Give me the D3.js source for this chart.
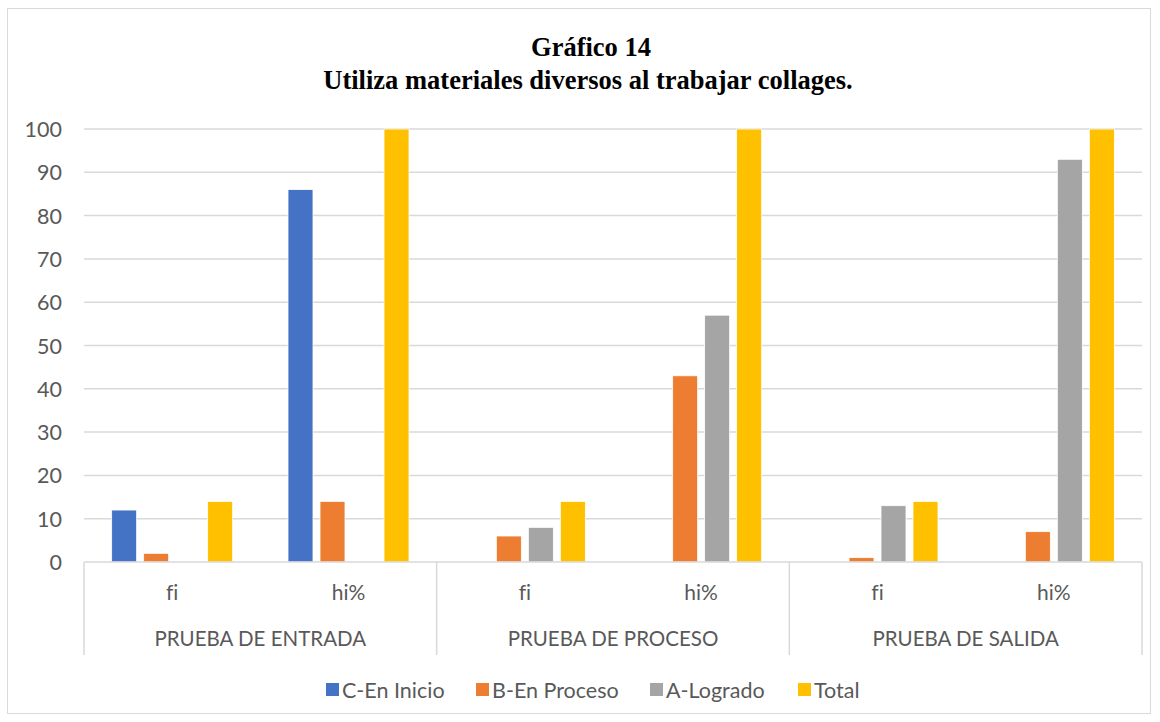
<!DOCTYPE html>
<html>
<head>
<meta charset="utf-8">
<script src="https://cdn.jsdelivr.net/npm/d3@7"></script>
<style>
  html, body { margin: 0; padding: 0; background: #ffffff; }
  svg { display: block; }
  text { font-variant-ligatures: none; }
</style>
</head>
<body>
<svg id="chart" width="1160" height="722"></svg>
<script>
// Test groups and the two measures shown under each one
const groups = ["PRUEBA DE ENTRADA", "PRUEBA DE PROCESO", "PRUEBA DE SALIDA"];
const measures = ["fi", "hi%"];
const seriesNames = ["C-En Inicio", "B-En Proceso", "A-Logrado", "Total"];
const seriesColors = ["#4472C4", "#ED7D31", "#A5A5A5", "#FFC000"];

// Values per slot, in order: entrada fi, entrada hi%, proceso fi, proceso hi%, salida fi, salida hi%
const cInicio   = [12, 86, 0, 0, 0, 0];
const bProceso  = [2, 14, 6, 43, 1, 7];
const aLogrado  = [0, 0, 8, 57, 13, 93];
const total     = [14, 100, 14, 100, 14, 100];
const yTicks = [0, 10, 20, 30, 40, 50, 60, 70, 80, 90, 100];

const titleLine1 = "Gráfico 14";
const titleLine2 = "Utiliza materiales diversos al trabajar collages.";

const seriesValues = [cInicio, bProceso, aLogrado, total];

const svg = d3.select("#chart");
const plot = { left: 84, right: 1142, top: 129, bottom: 562 };
const labelFont = "Lato, 'Open Sans', sans-serif";
const textColor = "#595959";
const lineColor = "#d9d9d9";

// Chart frame
svg.append("rect")
  .attr("x", 7.5).attr("y", 8.5)
  .attr("width", 1143).attr("height", 705)
  .attr("fill", "#fff").attr("stroke", lineColor).attr("stroke-width", 1);

// Title
const title = svg.append("text")
  .attr("text-anchor", "middle")
  .attr("font-family", "'Liberation Serif', 'Times New Roman', serif")
  .attr("font-weight", "bold")
  .attr("font-size", 26.5)
  .attr("fill", "#000");
title.append("tspan").attr("x", 591).attr("y", 56).text(titleLine1);
title.append("tspan").attr("x", 588).attr("y", 89).text(titleLine2);

// Slots: one per group × measure
const slots = [];
groups.forEach(g => measures.forEach(m => slots.push({ group: g, measure: m, key: g + "|" + m })));

const x0 = d3.scaleBand()
  .domain(slots.map(s => s.key))
  .range([plot.left, plot.right])
  .padding(0);

const x1 = d3.scaleBand()
  .domain(seriesNames)
  .range([-64, 64])
  .paddingInner(0.22)
  .paddingOuter(0.11);

const y = d3.scaleLinear().domain([0, 100]).range([plot.bottom, plot.top]);

// Gridlines
svg.append("g").selectAll("line")
  .data(yTicks.filter(t => t > 0))
  .join("line")
  .attr("x1", plot.left).attr("x2", plot.right)
  .attr("y1", d => y(d)).attr("y2", d => y(d))
  .attr("stroke", lineColor).attr("stroke-width", 1.5);

// Y axis labels
const yAxis = d3.axisLeft(y).tickValues(yTicks).tickSize(0).tickPadding(0);
const yg = svg.append("g")
  .attr("transform", `translate(${plot.left - 22},0)`)
  .call(yAxis);
yg.select(".domain").remove();
yg.selectAll("text")
  .attr("font-family", labelFont)
  .attr("font-size", 21.5)
  .attr("fill", textColor)
  .attr("dy", "0.35em");

// Bars
const barData = [];
slots.forEach((s, i) => {
  seriesNames.forEach((name, j) => {
    barData.push({ slot: s.key, series: name, color: seriesColors[j], value: seriesValues[j][i] });
  });
});

svg.append("g").selectAll("rect")
  .data(barData.filter(d => d.value > 0))
  .join("rect")
  .attr("x", d => x0(d.slot) + x0.bandwidth() / 2 + x1(d.series))
  .attr("width", x1.bandwidth())
  .attr("y", d => y(d.value))
  .attr("height", d => y(0) - y(d.value))
  .attr("fill", d => d.color)
  .attr("stroke", "#ffffff")
  .attr("stroke-width", 0.75);

// Category axis: baseline and group separators
const axisG = svg.append("g");
axisG.append("line")
  .attr("x1", plot.left).attr("x2", plot.right)
  .attr("y1", plot.bottom).attr("y2", plot.bottom)
  .attr("stroke", lineColor).attr("stroke-width", 1.5);

const groupBounds = [];
groups.forEach(g => {
  const first = x0(g + "|" + measures[0]);
  const last = x0(g + "|" + measures[measures.length - 1]) + x0.bandwidth();
  groupBounds.push({ group: g, x0: first, x1: last });
});
const sepXs = [groupBounds[0].x0].concat(groupBounds.map(b => b.x1));
axisG.selectAll("line.sep")
  .data(sepXs)
  .join("line")
  .attr("class", "sep")
  .attr("x1", d => d).attr("x2", d => d)
  .attr("y1", plot.bottom).attr("y2", 655)
  .attr("stroke", lineColor).attr("stroke-width", 1.5);

// Measure labels
axisG.selectAll("text.measure")
  .data(slots)
  .join("text")
  .attr("class", "measure")
  .attr("x", d => x0(d.key) + x0.bandwidth() / 2)
  .attr("y", 593)
  .attr("dy", "0.35em")
  .attr("text-anchor", "middle")
  .attr("font-family", labelFont)
  .attr("font-size", 21)
  .attr("fill", textColor)
  .text(d => d.measure);

// Group labels
axisG.selectAll("text.group")
  .data(groupBounds)
  .join("text")
  .attr("class", "group")
  .attr("x", d => (d.x0 + d.x1) / 2)
  .attr("y", 639)
  .attr("dy", "0.35em")
  .attr("text-anchor", "middle")
  .attr("font-family", labelFont)
  .attr("font-size", 20.5)
  .attr("fill", textColor)
  .text(d => d.group);

// Legend
const legendXs = [326, 476, 650, 798];
const legend = svg.append("g");
const items = legend.selectAll("g")
  .data(seriesNames.map((n, i) => ({ name: n, color: seriesColors[i], x: legendXs[i] })))
  .join("g")
  .attr("transform", d => `translate(${d.x},690)`);
items.append("rect")
  .attr("x", 0).attr("y", -7)
  .attr("width", 13).attr("height", 13)
  .attr("fill", d => d.color);
items.append("text")
  .attr("x", 16).attr("y", 0)
  .attr("dy", "0.35em")
  .attr("font-family", labelFont)
  .attr("font-size", 21.5)
  .attr("fill", textColor)
  .text(d => d.name);
</script>
</body>
</html>
